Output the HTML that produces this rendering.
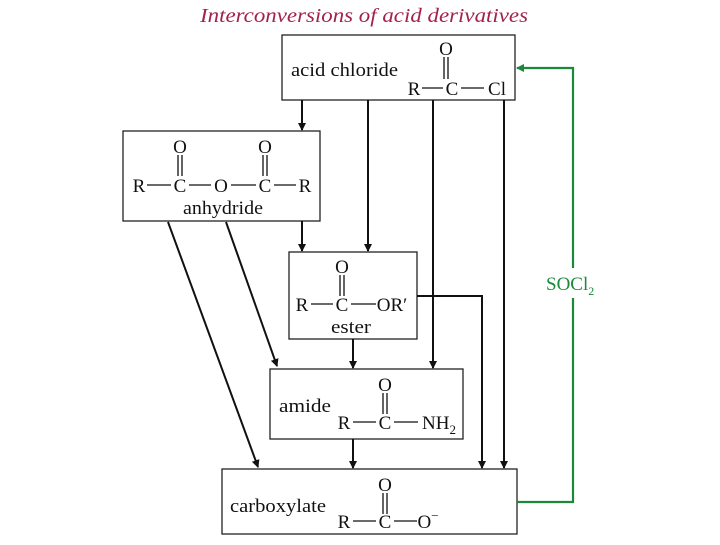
<!DOCTYPE html>
<html><head><meta charset="utf-8"><style>
body{margin:0;background:#fff}
svg text{font-family:"Liberation Serif",serif;fill:#111}
</style></head><body>
<svg width="720" height="540" viewBox="0 0 720 540" xmlns="http://www.w3.org/2000/svg">
<defs>
<marker id="a" markerWidth="8" markerHeight="10" refX="7" refY="5" orient="auto" markerUnits="userSpaceOnUse"><path d="M0,1 L8,5 L0,9 Z" fill="#111"/></marker>
<marker id="g" markerWidth="8" markerHeight="10" refX="7" refY="5" orient="auto" markerUnits="userSpaceOnUse"><path d="M0,1 L8,5 L0,9 Z" fill="#1a8a3a"/></marker>
</defs>
<text x="200" y="22" font-style="italic" font-size="20" textLength="328" lengthAdjust="spacingAndGlyphs" style="fill:#a3214f">Interconversions of acid derivatives</text>
<g fill="none" stroke="#222" stroke-width="1.3">
<rect x="282" y="35" width="233" height="65"/>
<rect x="123" y="131" width="197" height="90"/>
<rect x="289" y="252" width="128" height="87"/>
<rect x="270" y="369" width="193" height="70"/>
<rect x="222" y="469" width="295" height="65"/>
</g>
<g stroke="#111" stroke-width="2" fill="none" marker-end="url(#a)">
<line x1="302" y1="100" x2="302" y2="130"/>
<line x1="368" y1="100" x2="368" y2="251"/>
<line x1="433" y1="100" x2="433" y2="368"/>
<line x1="504" y1="100" x2="504" y2="468"/>
<line x1="302" y1="221" x2="302" y2="251"/>
<polyline points="417,296 482,296 482,468"/>
<line x1="353" y1="339" x2="353" y2="368"/>
<line x1="353" y1="439" x2="353" y2="468"/>
<line x1="168" y1="222" x2="258" y2="467"/>
<line x1="226" y1="222" x2="277" y2="366"/>
</g>
<polyline points="517,502 573,502 573,68 517,68" fill="none" stroke="#1a8a3a" stroke-width="2.2" marker-end="url(#g)"/>
<rect x="545" y="268" width="62" height="30" fill="#fff"/>
<text x="546" y="290" font-size="19" style="fill:#1a8a3a">SOCl<tspan font-size="12" dy="5">2</tspan></text>
<g font-size="19">
<text x="291" y="76" textLength="107" lengthAdjust="spacingAndGlyphs">acid chloride</text>
<text x="446" y="55" text-anchor="middle">O</text>
<text x="414" y="95" text-anchor="middle">R</text>
<text x="452" y="95" text-anchor="middle">C</text>
<text x="497" y="95" text-anchor="middle">Cl</text>
<text x="180" y="153" text-anchor="middle">O</text>
<text x="265" y="153" text-anchor="middle">O</text>
<text x="139" y="192" text-anchor="middle">R</text>
<text x="180" y="192" text-anchor="middle">C</text>
<text x="221" y="192" text-anchor="middle">O</text>
<text x="265" y="192" text-anchor="middle">C</text>
<text x="305" y="192" text-anchor="middle">R</text>
<text x="183" y="214" textLength="80" lengthAdjust="spacingAndGlyphs">anhydride</text>
<text x="342" y="273" text-anchor="middle">O</text>
<text x="302" y="311" text-anchor="middle">R</text>
<text x="342" y="311" text-anchor="middle">C</text>
<text x="392" y="311" text-anchor="middle">OR′</text>
<text x="331" y="333" textLength="40" lengthAdjust="spacingAndGlyphs">ester</text>
<text x="279" y="412" textLength="52" lengthAdjust="spacingAndGlyphs">amide</text>
<text x="385" y="391" text-anchor="middle">O</text>
<text x="344" y="429" text-anchor="middle">R</text>
<text x="385" y="429" text-anchor="middle">C</text>
<text x="439" y="429" text-anchor="middle">NH<tspan font-size="13" dy="5">2</tspan></text>
<text x="230" y="512" textLength="96" lengthAdjust="spacingAndGlyphs">carboxylate</text>
<text x="385" y="491" text-anchor="middle">O</text>
<text x="344" y="528" text-anchor="middle">R</text>
<text x="385" y="528" text-anchor="middle">C</text>
<text x="428" y="528" text-anchor="middle">O<tspan font-size="13" dy="-8">−</tspan></text>
</g>
<g stroke="#111" stroke-width="1.3">
<line x1="444" y1="57" x2="444" y2="79"/><line x1="448" y1="57" x2="448" y2="79"/>
<line x1="422" y1="88" x2="443" y2="88"/><line x1="461" y1="88" x2="484" y2="88"/>
<line x1="178" y1="155" x2="178" y2="176"/><line x1="182" y1="155" x2="182" y2="176"/>
<line x1="263" y1="155" x2="263" y2="176"/><line x1="267" y1="155" x2="267" y2="176"/>
<line x1="147" y1="185" x2="171" y2="185"/><line x1="189" y1="185" x2="211" y2="185"/>
<line x1="231" y1="185" x2="256" y2="185"/><line x1="274" y1="185" x2="296" y2="185"/>
<line x1="340" y1="275" x2="340" y2="296"/><line x1="344" y1="275" x2="344" y2="296"/>
<line x1="311" y1="304" x2="333" y2="304"/><line x1="351" y1="304" x2="376" y2="304"/>
<line x1="383" y1="393" x2="383" y2="414"/><line x1="387" y1="393" x2="387" y2="414"/>
<line x1="353" y1="422" x2="376" y2="422"/><line x1="394" y1="422" x2="418" y2="422"/>
<line x1="383" y1="493" x2="383" y2="514"/><line x1="387" y1="493" x2="387" y2="514"/>
<line x1="353" y1="521" x2="376" y2="521"/><line x1="394" y1="521" x2="417" y2="521"/>
</g>
</svg>
</body></html>
